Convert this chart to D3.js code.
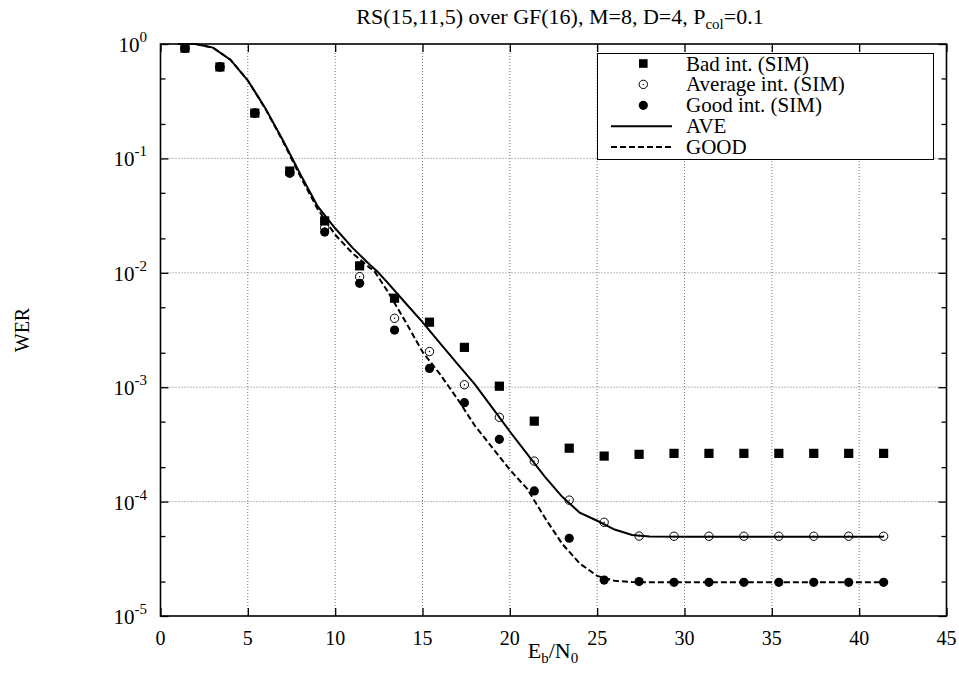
<!DOCTYPE html>
<html><head><meta charset="utf-8">
<script src="https://cdn.jsdelivr.net/npm/d3@7"></script>
<style>
body{margin:0;background:#fff;}
svg text{font-family:"Liberation Serif","Times New Roman",Times,"DejaVu Serif",serif;fill:#000;}
</style></head>
<body><svg id="c" width="959" height="673" style="font-family:'Liberation Serif','Times New Roman',Times,'DejaVu Serif',serif"></svg>
<script>
// ---- data ----
const simX = [1.4,3.4,5.4,7.4,9.4,11.4,13.4,15.4,17.4,19.4,21.4,23.4,25.4,27.4,29.4,31.4,33.4,35.4,37.4,39.4,41.4];
const badSim = [0.92,0.63,0.249,0.0775,0.0284,0.0115,0.006,0.0037,0.00223,0.00102,0.000505,0.000293,0.00025,0.000259,0.000264,0.000264,0.000264,0.000264,0.000264,0.000264,0.000264];
const aveSim = [0.92,0.63,0.249,0.076,0.0248,0.00925,0.004,0.00205,0.00105,0.000546,0.000226,0.000103,0.0000659,0.00005,0.0000498,0.0000498,0.0000498,0.0000498,0.0000498,0.0000498,0.0000498];
const goodSim = [0.92,0.63,0.249,0.0741,0.0227,0.00809,0.00316,0.00146,0.000732,0.00035,0.000124,0.0000478,0.0000206,0.00002,0.0000197,0.0000197,0.0000197,0.0000197,0.0000197,0.0000197,0.0000197];
const aveX = [1,2,3,4,5,6,7,8,9,10,11,12,12.4,13,14,15,16,17,18,19,20,21,22,23,24,25,26,27,28,30,35,41.4];
const aveY = [1.0,1.0,0.93,0.73,0.48,0.275,0.145,0.073,0.038,0.0245,0.0165,0.0117,0.0103,0.0082,0.0055,0.0037,0.00243,0.0016,0.00106,0.00066,0.00041,0.00026,0.000165,0.00011,0.00008,0.000068,0.000057,0.000051,0.0000495,0.0000493,0.0000493,0.0000493];
const goodX = [1,2,3,4,5,6,7,8,9,10,11,12,12.2,13,14,15,16,17,18,19,20,21,22,23,24,25,26,27,28,30,35,41.4];
const goodY = [1.0,1.0,0.93,0.73,0.48,0.272,0.142,0.07,0.036,0.0215,0.0148,0.011,0.0106,0.0069,0.0038,0.00204,0.0013,0.00079,0.00046,0.000296,0.00019,0.000129,0.0000725,0.0000427,0.0000288,0.0000224,0.0000203,0.0000198,0.0000197,0.0000197,0.0000197,0.0000197];
const xTicks = [0,5,10,15,20,25,30,35,40,45];
const yExps = [0,-1,-2,-3,-4,-5];
const legendLabels = ["Bad int. (SIM)","Average int. (SIM)","Good int. (SIM)","AVE","GOOD"];

// ---- layout ----
const FONT = "'Liberation Serif','Times New Roman',Times,'DejaVu Serif',serif";
const svg = d3.select("#c");
const L=160.5, R=946.5, T=44, B=616;
const x = d3.scaleLinear().domain([0,45]).range([L,R]);
const y = d3.scaleLog().domain([1e-5,1]).range([B,T]);
const minorVals = [];
yExps.forEach(e=>{ if(e>-5){ [2,5].forEach(m=>minorVals.push(m*Math.pow(10,e-1))); } });

// grid
const grid = svg.append("g").attr("stroke","#777").attr("stroke-width",1).attr("stroke-dasharray","1,2");
xTicks.filter(t=>t>0&&t<45).forEach(t=>grid.append("line").attr("x1",x(t)).attr("x2",x(t)).attr("y1",T).attr("y2",B));
yExps.filter(e=>e<0&&e>-5).forEach(e=>grid.append("line").attr("x1",L).attr("x2",R).attr("y1",y(Math.pow(10,e))).attr("y2",y(Math.pow(10,e))));

// axes with d3 (inward ticks)
const axB = d3.axisBottom(x).tickValues(xTicks).tickSize(-8).tickFormat("");
const axT = d3.axisTop(x).tickValues(xTicks).tickSize(-8).tickFormat("");
const majors = yExps.map(e=>Math.pow(10,e));
const axL = d3.axisLeft(y).tickValues(majors).tickSize(-8).tickFormat("");
const axR = d3.axisRight(y).tickValues(majors).tickSize(-8).tickFormat("");
const axLm = d3.axisLeft(y).tickValues(minorVals).tickSize(-5).tickFormat("");
const axRm = d3.axisRight(y).tickValues(minorVals).tickSize(-5).tickFormat("");
function styleAx(g){ g.select(".domain").remove(); g.selectAll("line").attr("stroke","#000").attr("stroke-width",1.3); }
svg.append("g").attr("transform",`translate(0,${B})`).call(axB).call(styleAx);
svg.append("g").attr("transform",`translate(0,${T})`).call(axT).call(styleAx);
svg.append("g").attr("transform",`translate(${L},0)`).call(axL).call(styleAx);
svg.append("g").attr("transform",`translate(${R},0)`).call(axR).call(styleAx);
svg.append("g").attr("transform",`translate(${L},0)`).call(axLm).call(styleAx);
svg.append("g").attr("transform",`translate(${R},0)`).call(axRm).call(styleAx);

// frame
svg.append("rect").attr("x",L).attr("y",T).attr("width",R-L).attr("height",B-T).attr("fill","none").attr("stroke","#000").attr("stroke-width",1.6);

// tick labels
svg.append("g").selectAll("text").data(xTicks).join("text").attr("font-family",FONT)
  .attr("x",d=>x(d)).attr("y",645).attr("text-anchor","middle").attr("font-size",20).text(d=>d);
const yl = svg.append("g").selectAll("text").data(yExps).join("text").attr("font-family",FONT)
  .attr("x",147).attr("y",d=>y(Math.pow(10,d))+8).attr("text-anchor","end").attr("font-size",21);
yl.append("tspan").text("10");
yl.append("tspan").attr("dy",-10).attr("font-size",15).text(d=>d);

// title
const title = svg.append("text").attr("font-family",FONT).attr("x",560).attr("y",24).attr("text-anchor","middle").attr("font-size",22);
title.append("tspan").text("RS(15,11,5) over GF(16), M=8, D=4, P");
title.append("tspan").attr("dy",5).attr("font-size",15).text("col");
title.append("tspan").attr("dy",-5).text("=0.1");

// axis labels
const xl = svg.append("text").attr("font-family",FONT).attr("x",553).attr("y",658).attr("text-anchor","middle").attr("font-size",22);
xl.append("tspan").text("E");
xl.append("tspan").attr("dy",5).attr("font-size",15).text("b");
xl.append("tspan").attr("dy",-5).text("/N");
xl.append("tspan").attr("dy",5).attr("font-size",15).text("0");
svg.append("text").attr("font-family",FONT).attr("transform","translate(29,330) rotate(-90)").attr("text-anchor","middle").attr("font-size",20).text("WER");

// curves
const line = d3.line().x(d=>x(d[0])).y(d=>y(d[1]));
svg.append("path").datum(aveX.map((v,i)=>[v,aveY[i]])).attr("d",line).attr("fill","none").attr("stroke","#000").attr("stroke-width",2);
svg.append("path").datum(goodX.map((v,i)=>[v,goodY[i]])).attr("d",line).attr("fill","none").attr("stroke","#000").attr("stroke-width",2).attr("stroke-dasharray","6,3");

// markers
const good = simX.map((v,i)=>[v,goodSim[i]]);
const ave = simX.map((v,i)=>[v,aveSim[i]]);
const bad = simX.map((v,i)=>[v,badSim[i]]);
svg.append("g").selectAll("circle").data(good).join("circle").attr("cx",d=>x(d[0])).attr("cy",d=>y(d[1])).attr("r",4.6).attr("fill","#000");
const ag = svg.append("g");
ag.selectAll("circle.o").data(ave).join("circle").attr("class","o").attr("cx",d=>x(d[0])).attr("cy",d=>y(d[1])).attr("r",4.2).attr("fill","none").attr("stroke","#000").attr("stroke-width",1);
ag.selectAll("circle.d").data(ave).join("circle").attr("class","d").attr("cx",d=>x(d[0])).attr("cy",d=>y(d[1])).attr("r",0.7).attr("fill","#000");
svg.append("g").selectAll("rect").data(bad).join("rect").attr("x",d=>x(d[0])-4.6).attr("y",d=>y(d[1])-4.6).attr("width",9.2).attr("height",9.2).attr("fill","#000");

// legend
const lg = svg.append("g");
lg.append("rect").attr("x",597.5).attr("y",53.5).attr("width",336).attr("height",106).attr("fill","#fff").attr("stroke","#000").attr("stroke-width",1);
legendLabels.forEach((t,i)=>{
  const cy = 63.5 + i*20.9;
  lg.append("text").attr("font-family",FONT).attr("x",686).attr("y",cy+7).attr("font-size",21).text(t);
  if(i===0) lg.append("rect").attr("x",643.3-4.3).attr("y",cy-4.3).attr("width",8.6).attr("height",8.6).attr("fill","#000");
  if(i===1){ lg.append("circle").attr("cx",643.3).attr("cy",cy).attr("r",4.2).attr("fill","none").attr("stroke","#000");
             lg.append("circle").attr("cx",643.3).attr("cy",cy).attr("r",0.7).attr("fill","#000"); }
  if(i===2) lg.append("circle").attr("cx",643.3).attr("cy",cy).attr("r",4.6).attr("fill","#000");
  if(i===3) lg.append("line").attr("x1",611).attr("x2",672).attr("y1",cy).attr("y2",cy).attr("stroke","#000").attr("stroke-width",2);
  if(i===4) lg.append("line").attr("x1",611).attr("x2",672).attr("y1",cy).attr("y2",cy).attr("stroke","#000").attr("stroke-width",2).attr("stroke-dasharray","6,3");
});
</script></body></html>
